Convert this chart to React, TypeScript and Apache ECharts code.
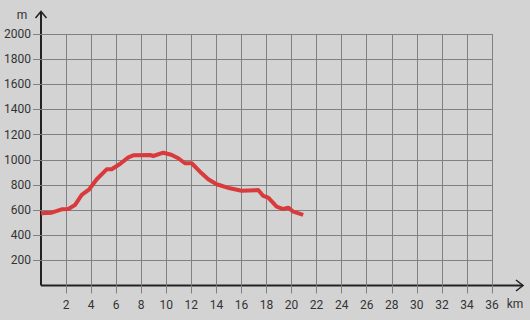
import React, { useEffect, useRef } from "react";
import * as echarts from "echarts";

const distanceKm = [0.0, 0.85, 1.65, 2.18, 2.71, 3.25, 3.85, 4.45, 5.24, 5.64, 6.3, 6.97, 7.37, 8.7, 8.96, 9.76, 10.4, 10.96, 11.49, 12.03, 12.69, 13.35, 14.02, 15.08, 16.02, 17.34, 17.74, 18.14, 18.81, 19.34, 19.74, 20.14, 20.93];
const elevationM = [574, 579, 606, 608, 640, 720, 765, 845, 924, 924, 966, 1019, 1035, 1038, 1030, 1056, 1040, 1012, 972, 972, 905, 845, 805, 773, 754, 759, 712, 698, 627, 608, 619, 587, 561];
const xTicks = [2, 4, 6, 8, 10, 12, 14, 16, 18, 20, 22, 24, 26, 28, 30, 32, 34, 36];
const yTicks = [200, 400, 600, 800, 1000, 1200, 1400, 1600, 1800, 2000];

export default function App() {
  const ref = useRef<HTMLDivElement>(null);
  useEffect(() => {
    if (!ref.current) return;
    const chart = echarts.init(ref.current, null, { renderer: "svg" });
    const gridColor = "#808080";
    const font = "Roboto, 'Noto Sans', sans-serif";
    chart.setOption({
      animation: false,
      backgroundColor: "#d3d3d3",
      grid: { left: 41, right: 38, top: 34, bottom: 34.5, containLabel: false },
      xAxis: {
        type: "value",
        min: 0,
        max: 36,
        interval: 2,
        axisLine: { show: false },
        axisTick: { show: true, length: 8, customValues: xTicks, lineStyle: { color: gridColor, width: 1 } },
        axisLabel: { customValues: xTicks, margin: 13, color: "#333", fontSize: 12, fontFamily: font, formatter: (v: number) => String(v) },
        splitLine: { show: true, lineStyle: { color: gridColor, width: 1 } },
      },
      yAxis: {
        type: "value",
        min: 0,
        max: 2000,
        interval: 200,
        axisLine: { show: false },
        axisTick: { show: true, length: 8, customValues: yTicks, lineStyle: { color: gridColor, width: 1 } },
        axisLabel: { customValues: yTicks, margin: 10, color: "#333", fontSize: 12, fontFamily: font, formatter: (v: number) => String(v) },
        splitLine: { show: true, lineStyle: { color: gridColor, width: 1 } },
      },
      series: [
        {
          type: "line",
          data: distanceKm.map((d, i) => [d, elevationM[i]]),
          showSymbol: false,
          smooth: false,
          lineStyle: { color: "#d93a3c", width: 4, join: "round", cap: "butt" },
          itemStyle: { color: "#d93a3c" },
        },
      ],
      graphic: [
        { type: "line", shape: { x1: 41, y1: 285.5, x2: 523, y2: 285.5 }, style: { stroke: "#222", lineWidth: 2 } },
        { type: "line", shape: { x1: 41, y1: 285.5, x2: 41, y2: 12 }, style: { stroke: "#222", lineWidth: 2 } },
        { type: "polyline", shape: { points: [[516, 280], [523, 285.5], [516, 291]] }, style: { stroke: "#222", lineWidth: 1.5, fill: "none" } },
        { type: "polyline", shape: { points: [[35.5, 18], [41, 11.5], [46.5, 18]] }, style: { stroke: "#222", lineWidth: 1.5, fill: "none" } },
        { type: "text", x: 515, y: 304, style: { text: "km", fill: "#333", fontSize: 12, fontFamily: font, align: "center", verticalAlign: "middle" } },
        { type: "text", x: 22, y: 15, style: { text: "m", fill: "#333", fontSize: 12, fontFamily: font, align: "center", verticalAlign: "middle" } },
      ],
    });
    return () => chart.dispose();
  }, []);
  return <div ref={ref} style={{ position: "fixed", left: 0, top: 0, width: 530, height: 320 }} />;
}
